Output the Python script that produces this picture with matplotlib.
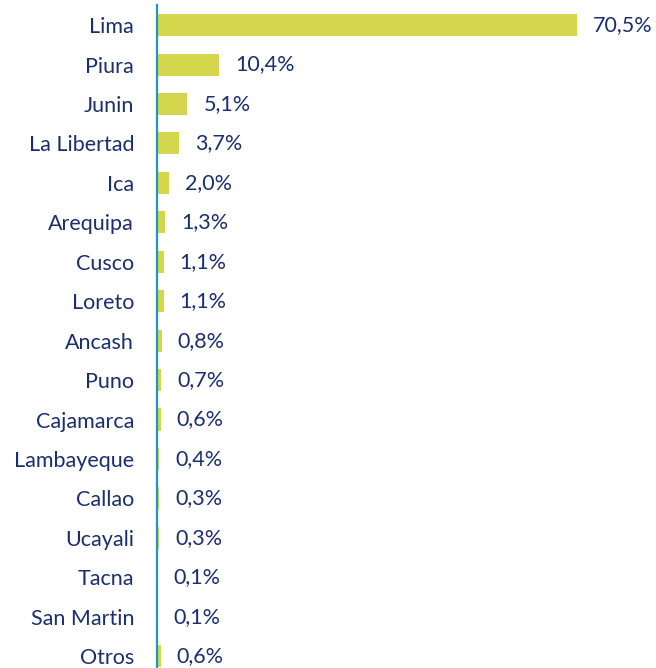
import matplotlib.pyplot as plt

regiones = ["Lima", "Piura", "Junin", "La Libertad", "Ica", "Arequipa", "Cusco",
            "Loreto", "Ancash", "Puno", "Cajamarca", "Lambayeque", "Callao",
            "Ucayali", "Tacna", "San Martin", "Otros"]
porcentajes = [70.5, 10.4, 5.1, 3.7, 2.0, 1.3, 1.1, 1.1, 0.8, 0.7, 0.6, 0.4,
               0.3, 0.3, 0.1, 0.1, 0.6]

navy = "#1b2f6e"
plt.rcParams["font.family"] = ["Lato", "DejaVu Sans"]

fig = plt.figure(figsize=(6.56, 6.68), dpi=100)
ax = fig.add_axes([157 / 656, 0, 1 - 157 / 656, 663 / 668])

y = range(len(regiones))
ax.barh(y, porcentajes, height=0.56, color="#d4d74b")
for i, v in zip(y, porcentajes):
    etiqueta = f"{v:.1f}%".replace(".", ",")
    ax.text(v + 2.7, i, etiqueta, va="center", ha="left", fontsize=15.5, color=navy)

ax.set_xlim(0, (656 - 157) / 5.96)
ax.set_ylim(16.3, -0.51)
ax.set_yticks(list(y))
ax.set_yticklabels(regiones, fontsize=15.5, color=navy)
ax.tick_params(axis="y", length=0, pad=16.5)
ax.set_xticks([])
for s in ["top", "right", "bottom"]:
    ax.spines[s].set_visible(False)
ax.spines["left"].set_color("#1f95c9")
ax.spines["left"].set_linewidth(1.6)

fig.savefig("out.png", dpi=100)
